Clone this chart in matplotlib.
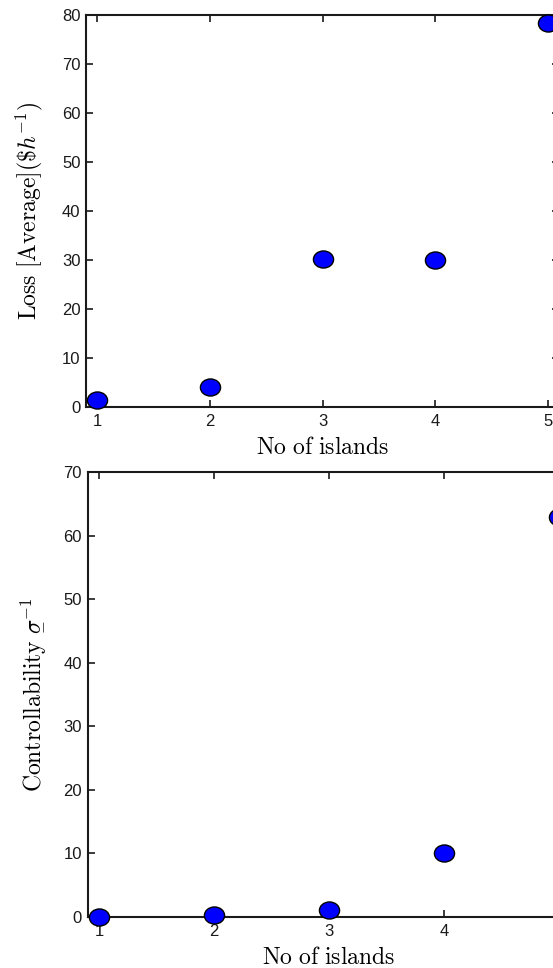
import matplotlib
matplotlib.use("Agg")
import matplotlib.pyplot as plt
from matplotlib.path import Path
from matplotlib.transforms import Affine2D

plt.rcParams['mathtext.fontset'] = 'cm'
plt.rcParams['font.family'] = ['Liberation Sans', 'DejaVu Sans']

islands = [1, 2, 3, 4, 5]
loss_avg = [1.5, 4.0, 30.2, 30.1, 78.3]
controllability = [0.0, 0.3, 1.1, 10.0, 62.9]

xticks = [1, 2, 3, 4, 5]
loss_yticks = [0, 10, 20, 30, 40, 50, 60, 70, 80]
ctrl_yticks = [0, 10, 20, 30, 40, 50, 60, 70]

W, H = 553, 968
fig = plt.figure(figsize=(W / 100, H / 100), dpi=100)

# slightly wide circle, like the reference's markers
ellipse = Path.unit_circle().transformed(Affine2D().scale(1.18, 1.0))

def px_axes(left, top, right, bottom):
    return fig.add_axes([left / W, 1 - bottom / H, (right - left) / W, (bottom - top) / H])

def style(ax):
    for s in ax.spines.values():
        s.set_linewidth(1.5)
        s.set_color('#1a1a1a')
    ax.tick_params(direction='in', top=True, right=True, length=5, width=1.2,
                   labelsize=12, colors='#1a1a1a', pad=5)
    ax.tick_params(axis='y', pad=4)

ax1 = px_axes(86, 15, 559, 407)
ax1.plot(islands, loss_avg, linestyle='none', marker=ellipse, ms=14.5,
         mfc='#0000ff', mec='black', mew=1.0, clip_on=False, zorder=5)
ax1.set_xlim(0.9, 5.1)
ax1.set_ylim(0, 80)
ax1.set_xticks(xticks)
ax1.set_yticks(loss_yticks)
style(ax1)
ax1.set_xlabel(r'$\mathrm{No\ of\ islands}$', fontsize=17, labelpad=6)
ax1.set_ylabel(r'$\mathrm{Loss\ [Average](\$}h^{-1}\mathrm{)}$', fontsize=17)
ax1.yaxis.set_label_coords((45 - 86) / 473, 0.5)

ax2 = px_axes(87.5, 472, 570.5, 917)
ax2.plot(islands, controllability, linestyle='none', marker=ellipse, ms=14.5,
         mfc='#0000ff', mec='black', mew=1.0, clip_on=False, zorder=5)
ax2.set_xlim(0.9, 5.1)
ax2.set_ylim(0, 70)
ax2.set_xticks(xticks)
ax2.set_yticks(ctrl_yticks)
style(ax2)
ax2.set_xlabel(r'$\mathrm{No\ of\ islands}$', fontsize=17, labelpad=6)
ax2.set_ylabel(r'$\mathrm{Controllability}\ {\underset{-}{\sigma}}^{-1}$', fontsize=17)
ax2.yaxis.set_label_coords((45 - 87.5) / 483, 0.5)

fig.savefig('out.png', dpi=100)
